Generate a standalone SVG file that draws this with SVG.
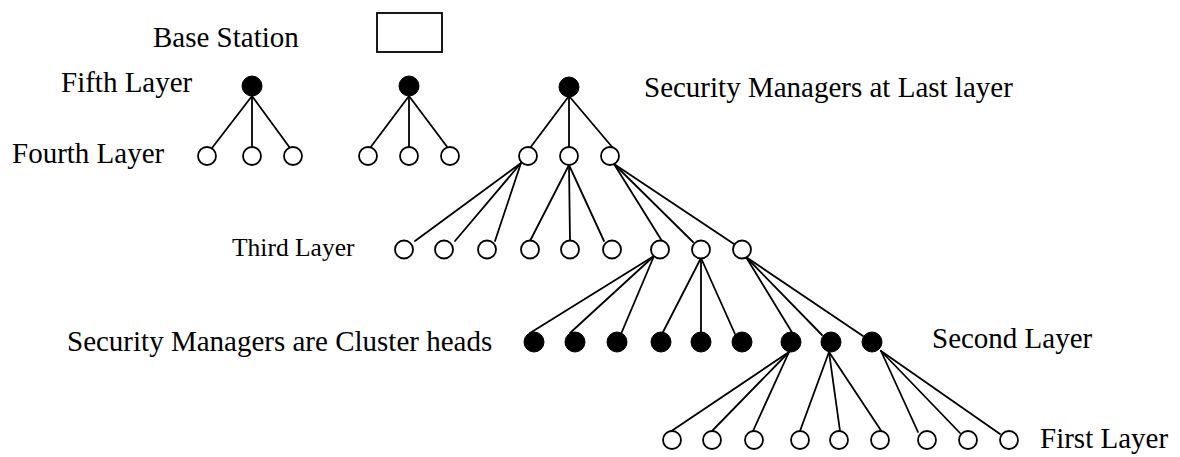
<svg xmlns="http://www.w3.org/2000/svg" width="1180" height="457" viewBox="0 0 1180 457">
<style>
  .open { fill: #fff; stroke: #000; stroke-width: 1.8; }
  .filled { fill: #000; stroke: #000; stroke-width: 1; }
  .conn line { stroke: #000; stroke-width: 1.8; stroke-linecap: round; }
  .box { fill: #fff; stroke: #000; stroke-width: 1.8; }
  text { font-family: "Liberation Serif", "Times New Roman", serif; font-size: 29px; fill: #000; }
  .small { font-size: 25.5px; }
</style>
<rect width="1180" height="457" fill="#fff"/>

<g id="labels">
  <text x="153" y="47">Base Station</text>
  <text x="61" y="92">Fifth Layer</text>
  <text x="12" y="163">Fourth Layer</text>
  <text x="644" y="97">Security Managers at Last layer</text>
  <text class="small" x="232" y="256">Third Layer</text>
  <text x="67" y="351">Security Managers are Cluster heads</text>
  <text x="932" y="348">Second Layer</text>
  <text x="1040" y="448">First Layer</text>
</g>

<g id="connectors" class="conn">
  <line x1="252" y1="96" x2="212" y2="148"/>
  <line x1="252" y1="96" x2="252" y2="147"/>
  <line x1="252" y1="96" x2="290" y2="148"/>
  <line x1="409" y1="96" x2="370" y2="148"/>
  <line x1="409" y1="96" x2="409" y2="147"/>
  <line x1="409" y1="96" x2="448" y2="148"/>
  <line x1="569" y1="96" x2="530" y2="148"/>
  <line x1="569" y1="96" x2="569" y2="147"/>
  <line x1="569" y1="96" x2="613" y2="148"/>

  <line x1="521" y1="163" x2="415" y2="241"/>
  <line x1="521" y1="163" x2="455" y2="241"/>
  <line x1="521" y1="163" x2="495" y2="241"/>
  <line x1="569" y1="165" x2="530" y2="241"/>
  <line x1="569" y1="165" x2="570" y2="241"/>
  <line x1="569" y1="165" x2="604" y2="241"/>
  <line x1="614" y1="164" x2="662" y2="241"/>
  <line x1="614" y1="164" x2="693" y2="242"/>
  <line x1="614" y1="164" x2="734" y2="244"/>

  <line x1="654" y1="256" x2="530" y2="333"/>
  <line x1="654" y1="256" x2="570" y2="333"/>
  <line x1="654" y1="256" x2="621" y2="334"/>
  <line x1="701" y1="258" x2="662" y2="334"/>
  <line x1="701" y1="258" x2="701" y2="334"/>
  <line x1="701" y1="258" x2="735" y2="334"/>
  <line x1="746" y1="257" x2="793" y2="334"/>
  <line x1="746" y1="257" x2="822" y2="335"/>
  <line x1="746" y1="257" x2="863" y2="336"/>

  <line x1="789" y1="352" x2="670" y2="432"/>
  <line x1="789" y1="352" x2="712" y2="431"/>
  <line x1="789" y1="352" x2="753" y2="431"/>
  <line x1="829" y1="352" x2="800" y2="431"/>
  <line x1="829" y1="352" x2="840" y2="431"/>
  <line x1="829" y1="352" x2="882" y2="432"/>
  <line x1="881" y1="351" x2="918" y2="432"/>
  <line x1="881" y1="351" x2="960" y2="433"/>
  <line x1="881" y1="351" x2="1000" y2="434"/>
</g>

<g id="base-station"><rect class="box" x="377" y="13" width="65" height="39"/></g>

<g id="l5-1"><circle class="filled" cx="252" cy="86" r="10"/></g>
<g id="l5-2"><circle class="filled" cx="409" cy="86" r="10"/></g>
<g id="l5-3"><circle class="filled" cx="569" cy="87" r="10"/></g>

<g id="l4-1"><circle class="open" cx="207" cy="156" r="9"/></g>
<g id="l4-2"><circle class="open" cx="252" cy="156" r="9"/></g>
<g id="l4-3"><circle class="open" cx="293" cy="156" r="9"/></g>
<g id="l4-4"><circle class="open" cx="368" cy="156" r="9"/></g>
<g id="l4-5"><circle class="open" cx="409" cy="156" r="9"/></g>
<g id="l4-6"><circle class="open" cx="450" cy="156" r="9"/></g>
<g id="l4-7"><circle class="open" cx="528" cy="156" r="9"/></g>
<g id="l4-8"><circle class="open" cx="569" cy="156" r="9"/></g>
<g id="l4-9"><circle class="open" cx="610" cy="156" r="9"/></g>

<g id="l3-1"><circle class="open" cx="404" cy="249.5" r="9"/></g>
<g id="l3-2"><circle class="open" cx="444" cy="249.5" r="9"/></g>
<g id="l3-3"><circle class="open" cx="487" cy="249.5" r="9"/></g>
<g id="l3-4"><circle class="open" cx="530" cy="249.5" r="9"/></g>
<g id="l3-5"><circle class="open" cx="570" cy="249.5" r="9"/></g>
<g id="l3-6"><circle class="open" cx="612" cy="249.5" r="9"/></g>
<g id="l3-7"><circle class="open" cx="660" cy="249.5" r="9"/></g>
<g id="l3-8"><circle class="open" cx="701" cy="249.5" r="9"/></g>
<g id="l3-9"><circle class="open" cx="742" cy="249.5" r="9"/></g>

<g id="l2-1"><circle class="filled" cx="534" cy="342" r="10"/></g>
<g id="l2-2"><circle class="filled" cx="575" cy="342" r="10"/></g>
<g id="l2-3"><circle class="filled" cx="617" cy="342" r="10"/></g>
<g id="l2-4"><circle class="filled" cx="661" cy="342" r="10"/></g>
<g id="l2-5"><circle class="filled" cx="701" cy="342" r="10"/></g>
<g id="l2-6"><circle class="filled" cx="742" cy="342" r="10"/></g>
<g id="l2-7"><circle class="filled" cx="791" cy="342" r="10"/></g>
<g id="l2-8"><circle class="filled" cx="831" cy="342" r="10"/></g>
<g id="l2-9"><circle class="filled" cx="872" cy="342" r="10"/></g>

<g id="l1-1"><circle class="open" cx="672" cy="440" r="9"/></g>
<g id="l1-2"><circle class="open" cx="712" cy="440" r="9"/></g>
<g id="l1-3"><circle class="open" cx="754" cy="440" r="9"/></g>
<g id="l1-4"><circle class="open" cx="800" cy="440" r="9"/></g>
<g id="l1-5"><circle class="open" cx="839" cy="440" r="9"/></g>
<g id="l1-6"><circle class="open" cx="880" cy="440" r="9"/></g>
<g id="l1-7"><circle class="open" cx="927" cy="440" r="9"/></g>
<g id="l1-8"><circle class="open" cx="968" cy="440" r="9"/></g>
<g id="l1-9"><circle class="open" cx="1009" cy="440" r="9"/></g>
</svg>
